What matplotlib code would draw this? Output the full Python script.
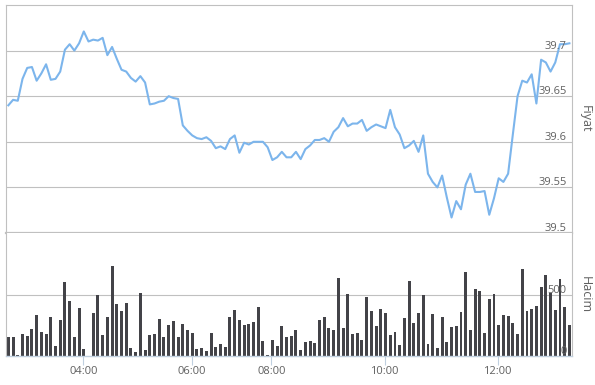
import numpy as np
import matplotlib
matplotlib.use('Agg')
import matplotlib.pyplot as plt
import matplotlib.transforms as mtransforms

# price (Fiyat) per bar
price = [39.640, 39.646, 39.645, 39.669, 39.681, 39.682, 39.667, 39.675, 39.685, 39.668,
         39.669, 39.677, 39.701, 39.707, 39.700, 39.708, 39.721, 39.710, 39.712, 39.711,
         39.714, 39.695, 39.704, 39.691, 39.679, 39.677, 39.670, 39.666, 39.672, 39.665,
         39.641, 39.642, 39.644, 39.645, 39.650, 39.648, 39.647, 39.618, 39.612, 39.607,
         39.604, 39.603, 39.605, 39.601, 39.593, 39.595, 39.592, 39.603, 39.607, 39.588,
         39.599, 39.597, 39.600, 39.600, 39.600, 39.594, 39.580, 39.583, 39.589, 39.583,
         39.583, 39.589, 39.581, 39.592, 39.596, 39.602, 39.602, 39.604, 39.600, 39.611,
         39.616, 39.626, 39.617, 39.620, 39.620, 39.624, 39.612, 39.616, 39.619, 39.617,
         39.615, 39.635, 39.616, 39.608, 39.593, 39.596, 39.601, 39.589, 39.607, 39.565,
         39.556, 39.550, 39.563, 39.539, 39.517, 39.535, 39.526, 39.553, 39.565, 39.545,
         39.545, 39.546, 39.520, 39.538, 39.560, 39.556, 39.565, 39.608, 39.650, 39.667,
         39.665, 39.674, 39.642, 39.690, 39.687, 39.677, 39.687, 39.707, 39.707, 39.708]

# volume (Hacim) per bar
volume = [153, 153, 5, 178, 161, 219, 333, 194, 178, 317,
          79, 292, 604, 448, 153, 391, 55, 0, 350, 497,
          169, 317, 735, 423, 369, 432, 63, 30, 514, 46,
          169, 178, 301, 153, 251, 284, 153, 260, 210, 186,
          55, 63, 38, 186, 71, 96, 71, 317, 374, 292,
          251, 260, 276, 399, 120, 5, 128, 79, 243, 153,
          161, 210, 46, 112, 120, 104, 292, 317, 227, 210,
          637, 227, 505, 178, 186, 128, 481, 366, 243, 383,
          350, 169, 194, 87, 309, 612, 268, 350, 497, 96,
          342, 63, 317, 112, 235, 243, 358, 686, 210, 546,
          530, 186, 464, 505, 251, 333, 325, 268, 178, 710,
          366, 383, 407, 563, 661, 514, 374, 628, 399, 251]

time_ticks = [15.9, 38.9, 55.8, 79.8, 103.8]
time_labels = ['04:00', '06:00', '08:00', '10:00', '12:00']
price_ticks = [39.5, 39.55, 39.6, 39.65, 39.7]
price_labels = ['39.5', '39.55', '39.6', '39.65', '39.7']
vol_ticks = [0, 500]
vol_labels = ['0', '500']

plt.rcParams['font.family'] = ['Open Sans', 'DejaVu Sans']
grid_c = '#c0c0c0'
txt_c = '#606060'

fig = plt.figure(figsize=(5.95, 3.85), dpi=100)
ax1 = fig.add_axes([6/595, 1-233/385, 566/595, 228/385])
ax2 = fig.add_axes([6/595, 1-356/385, 566/595, 123/385], sharex=ax1)

x = np.arange(len(price))

# price panel
ax1.plot(x, price, color='#7cb5ec', lw=1.5, zorder=3)
ax1.set_ylim(39.5, 39.75)
ax1.set_xlim(-0.5, 119.55)
for v in price_ticks[1:]:
    ax1.axhline(v, color=grid_c, lw=0.8, zorder=0)
for s in ['top', 'left', 'right']:
    ax1.spines[s].set_color(grid_c)
    ax1.spines[s].set_linewidth(0.8)
ax1.spines['bottom'].set_color(grid_c)
ax1.spines['bottom'].set_linewidth(1.6)
ax1.tick_params(bottom=False, left=False, labelbottom=False, labelleft=False)
ax1.set_yticks([])

up = mtransforms.ScaledTranslation(0, 1.5/72, fig.dpi_scale_trans)
tr1 = mtransforms.blended_transform_factory(ax1.transAxes, ax1.transData) + up
for v, lab in zip(price_ticks, price_labels):
    ax1.text(0.991, v, lab, transform=tr1, ha='right', va='baseline',
             fontsize=8, color=txt_c, zorder=4)

# volume panel
ax2.bar(x, volume, width=0.62, color='#434348', zorder=2)
ax2.set_ylim(0, 1008)
ax2.axhline(500, color=grid_c, lw=0.8, zorder=0)
ax2.spines['top'].set_visible(False)
for s in ['left', 'right']:
    ax2.spines[s].set_color(grid_c)
    ax2.spines[s].set_linewidth(0.8)
ax2.spines['bottom'].set_color('#c0d0e0')
ax2.spines['bottom'].set_linewidth(1)
ax2.set_yticks([])
ax2.set_xticks(time_ticks)
ax2.set_xticklabels(time_labels)
ax2.tick_params(axis='x', direction='out', length=6.5, width=0.8, color='#c0d0e0',
                labelsize=8, labelcolor=txt_c, pad=1)

tr2 = mtransforms.blended_transform_factory(ax2.transAxes, ax2.transData) + up
for v, lab in zip(vol_ticks, vol_labels):
    ax2.text(0.991, v, lab, transform=tr2, ha='right', va='baseline',
             fontsize=8, color=txt_c, zorder=4)

fig.text(585/595, 1-119/385, 'Fiyat', rotation=270, ha='center', va='center',
         fontsize=9, color=txt_c)
fig.text(585/595, 1-295/385, 'Hacim', rotation=270, ha='center', va='center',
         fontsize=9, color=txt_c)

fig.savefig('out.png', dpi=100)
